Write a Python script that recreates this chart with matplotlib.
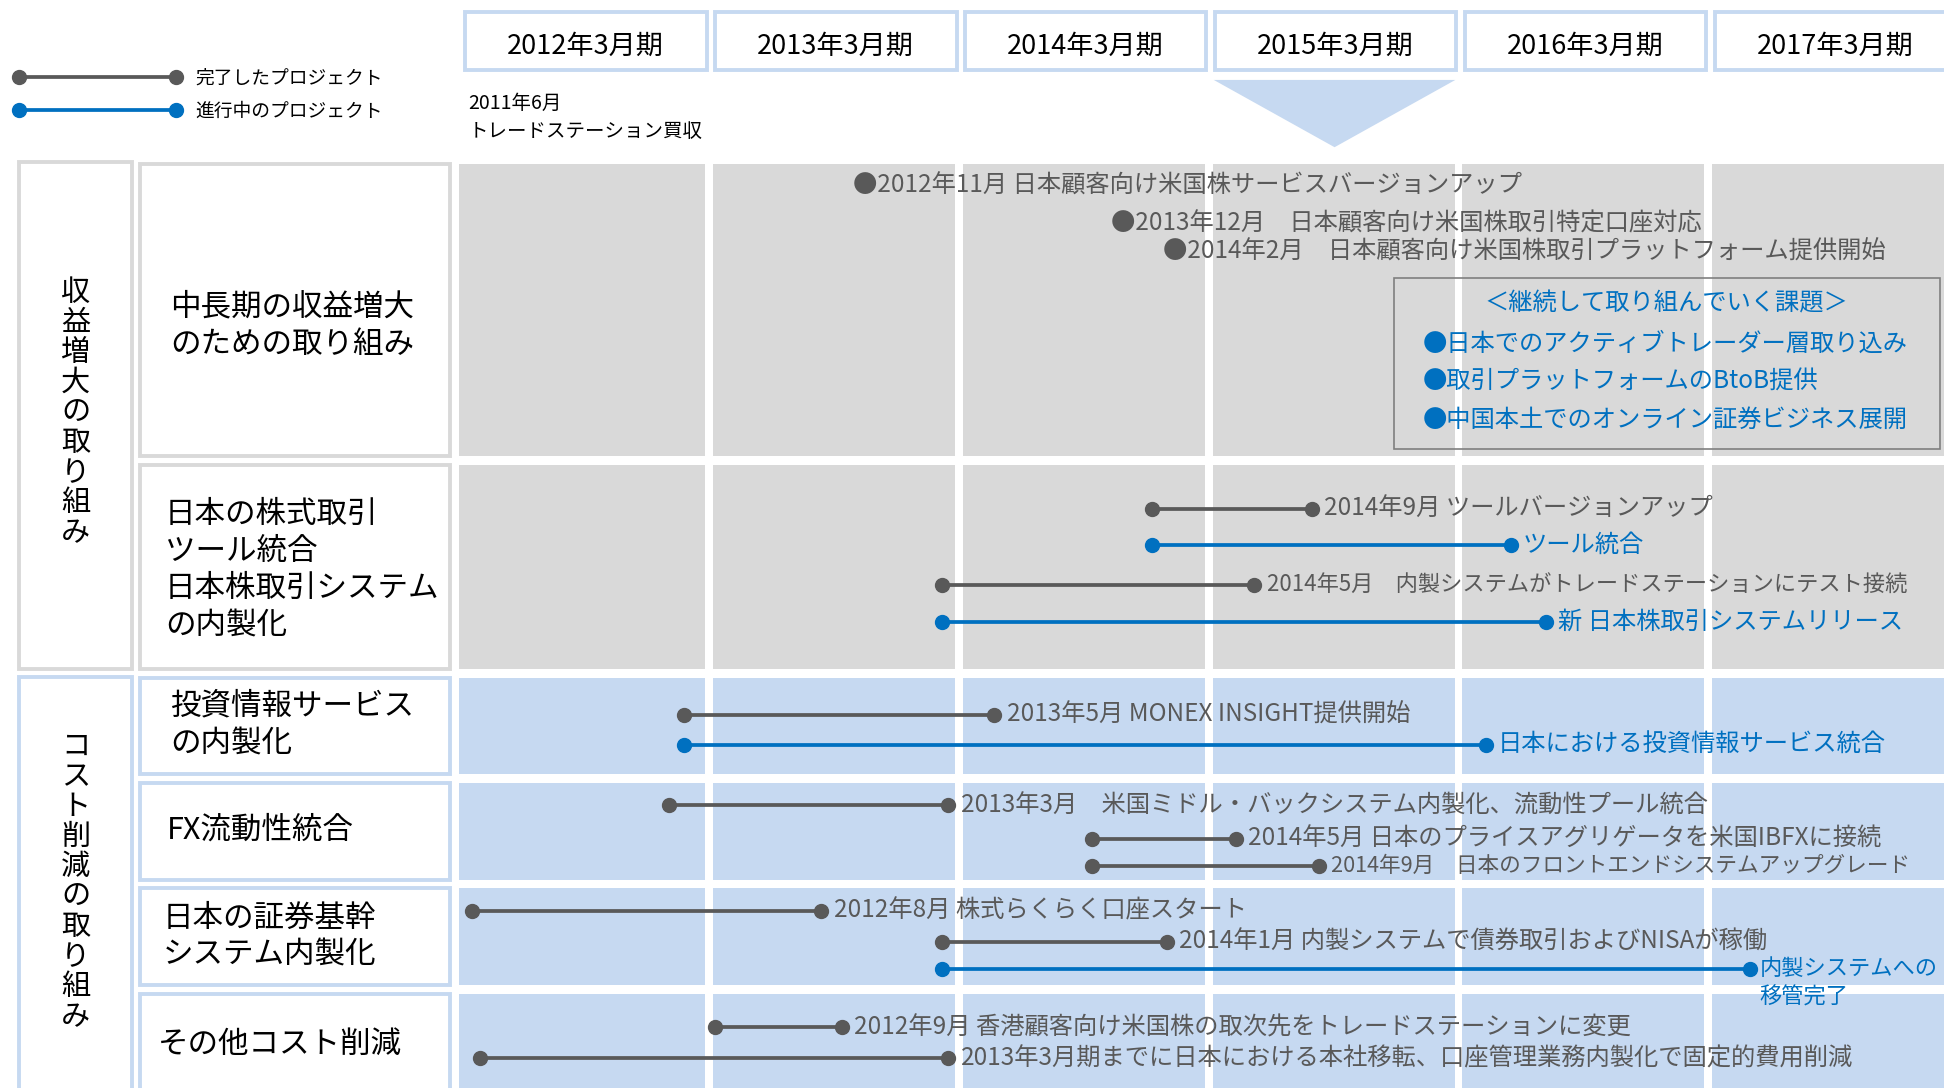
import matplotlib
matplotlib.use('Agg')
import matplotlib.pyplot as plt
from matplotlib.patches import Rectangle, Polygon
from matplotlib.lines import Line2D

plt.rcParams['font.family'] = ['Noto Sans CJK JP', 'DejaVu Sans']

# ---------------- data ----------------
fiscal_years = ["2012年3月期", "2013年3月期", "2014年3月期",
                "2015年3月期", "2016年3月期", "2017年3月期"]
fy_start_months = [0, 12, 24, 36, 48, 60]   # months since April 2011

category_names = ["収益増大の取り組み", "コスト削減の取り組み"]
row_names = ["中長期の収益増大\nのための取り組み",
             "日本の株式取引\nツール統合\n日本株取引システム\nの内製化",
             "投資情報サービス\nの内製化",
             "FX流動性統合",
             "日本の証券基幹\nシステム内製化",
             "その他コスト削減"]
row_category = [0, 0, 1, 1, 1, 1]

# single-point milestones (row 0)
milestone_months = [19.5, 31.9, 34.4]
milestone_labels = ["●2012年11月 日本顧客向け米国株サービスバージョンアップ",
                    "●2013年12月　日本顧客向け米国株取引特定口座対応",
                    "●2014年2月　日本顧客向け米国株取引プラットフォーム提供開始"]

# projects (start / end in months since April 2011)
proj_row = [1, 1, 1, 1, 2, 2, 3, 3, 3, 4, 4, 4, 5, 5]
proj_start = [33.3, 33.3, 23.2, 23.2, 10.8, 10.8, 10.1, 30.4, 30.4, 0.65, 23.2, 23.2, 12.3, 1.0]
proj_end = [40.95, 50.5, 38.2, 52.2, 25.7, 49.3, 23.5, 37.3, 41.3, 17.4, 34.0, 62.0, 18.4, 23.5]
proj_status = ["done", "active", "done", "active", "done", "active", "done", "done", "done",
               "done", "done", "active", "done", "done"]
proj_labels = ["2014年9月 ツールバージョンアップ",
               "ツール統合",
               "2014年5月　内製システムがトレードステーションにテスト接続",
               "新 日本株取引システムリリース",
               "2013年5月 MONEX INSIGHT提供開始",
               "日本における投資情報サービス統合",
               "2013年3月　米国ミドル・バックシステム内製化、流動性プール統合",
               "2014年5月 日本のプライスアグリゲータを米国IBFXに接続",
               "2014年9月　日本のフロントエンドシステムアップグレード",
               "2012年8月 株式らくらく口座スタート",
               "2014年1月 内製システムで債券取引およびNISAが稼働",
               "内製システムへの\n移管完了",
               "2012年9月 香港顧客向け米国株の取次先をトレードステーションに変更",
               "2013年3月期までに日本における本社移転、口座管理業務内製化で固定的費用削減"]

issues_title = "＜継続して取り組んでいく課題＞"
issues = ["●日本でのアクティブトレーダー層取り込み",
          "●取引プラットフォームのBtoB提供",
          "●中国本土でのオンライン証券ビジネス展開"]

acquisition_note = "2011年6月\nトレードステーション買収"
legend_labels = ["完了したプロジェクト", "進行中のプロジェクト"]

# ---------------- styles / layout ----------------
GRAY = '#595959'
BLUE = '#0070c0'
CELL_GRAY = '#d9d9d9'
CELL_BLUE = '#c6d9f1'
status_color = {"done": GRAY, "active": BLUE}
EVENT_FS = 17.5
proj_fs = [EVENT_FS, EVENT_FS, 16, EVENT_FS, EVENT_FS, EVENT_FS, EVENT_FS,
           EVENT_FS, 15.6, EVENT_FS, EVENT_FS, 16, EVENT_FS, EVENT_FS]

W, H = 1568, 878          # layout units
X0, PPM = 370, 16.8       # timeline origin and px per month

row_top = [132, 375, 547, 632, 717, 802]
row_bot = [368, 540, 625, 710, 795, 900]
cat_top = [131, 546]
cat_bot = [540, 900]
cat_center = [333, 712]
row_label_x = [137, 133, 137, 135, 131, 127]
row_label_y = [263, 460, 585, 670, 756, 843]
milestone_y = [150, 180, 203]
proj_y = [411, 440, 472, 502, 577, 601, 650, 677, 699, 735, 760, 782, 829, 854]

fig = plt.figure(figsize=(19.44, 10.88), dpi=100)
ax0 = fig.add_axes([0, 0, 1, 1])
ax0.set_xlim(0, W)
ax0.set_ylim(H, 0)
ax0.axis('off')

axT = fig.add_axes([X0 / W, 0, (W - X0) / W, 1])
axT.set_xlim(0, (W - X0) / PPM)
axT.set_ylim(H, 0)
axT.axis('off')

# ---------------- left label boxes ----------------
for i, name in enumerate(category_names):
    ec = CELL_GRAY if i == 0 else CELL_BLUE
    ax0.add_patch(Rectangle((15.6, cat_top[i]), 90.8, cat_bot[i] - cat_top[i],
                            fc='white', ec=ec, lw=2.8))
    ax0.text(61, cat_center[i], "\n".join(name), ha='center', va='center',
             multialignment='center', fontsize=21, linespacing=1.0, color='black')

for r, name in enumerate(row_names):
    ec = CELL_GRAY if row_category[r] == 0 else CELL_BLUE
    ax0.add_patch(Rectangle((113.2, row_top[r]), 249.7, row_bot[r] - row_top[r],
                            fc='white', ec=ec, lw=2.8))
    ax0.text(row_label_x[r], row_label_y[r], name, ha='left', va='center',
             fontsize=22, linespacing=1.26, color='black')

# ---------------- timeline cells ----------------
for r in range(len(row_names)):
    fc = CELL_GRAY if row_category[r] == 0 else CELL_BLUE
    for k, m in enumerate(fy_start_months):
        x0 = m + (0 if k == 0 else 0.19)
        x1 = m + 12 - 0.19
        axT.add_patch(Rectangle((x0, row_top[r]), x1 - x0, row_bot[r] - row_top[r],
                                fc=fc, ec='none', zorder=1))

# header boxes
for k, (m, lab) in enumerate(zip(fy_start_months, fiscal_years)):
    axT.add_patch(Rectangle((m + 0.3, 9.6), 11.6, 46.6, fc='white', ec=CELL_BLUE,
                            lw=2.8, zorder=2))
    axT.text(m + 6.1, 37, lab, ha='center', va='center', fontsize=19.5,
             color='black', zorder=3)

# triangle under current fiscal year
s = fy_start_months[3]
axT.add_patch(Polygon([(s + 0.25, 64.5), (s + 11.85, 64.5), (s + 6.05, 118.8)],
                      closed=True, fc=CELL_BLUE, ec='none'))

ax0.text(377.6, 94.5, acquisition_note, ha='left', va='center', fontsize=14,
         linespacing=1.45, color='black')

# ---------------- milestones ----------------
for m, y, lab in zip(milestone_months, milestone_y, milestone_labels):
    axT.annotate(lab, (m, y), xytext=(-8.5, 0), textcoords='offset points',
                 ha='left', va='center', fontsize=EVENT_FS, color=GRAY,
                 annotation_clip=False, zorder=4)

# ---------------- projects ----------------
for s0, e0, st, lab, y, fs in zip(proj_start, proj_end, proj_status, proj_labels,
                                  proj_y, proj_fs):
    c = status_color[st]
    axT.plot([s0, e0], [y, y], color=c, lw=2.7, marker='o', ms=10,
             solid_capstyle='butt', zorder=4, clip_on=False)
    if "\n" in lab:
        axT.annotate(lab, (e0, y), xytext=(7, 9), textcoords='offset points',
                     ha='left', va='top', fontsize=fs, color=c, linespacing=1.35,
                     annotation_clip=False, zorder=4)
    else:
        axT.annotate(lab, (e0, y), xytext=(9, 0), textcoords='offset points',
                     ha='left', va='center', fontsize=fs, color=c,
                     annotation_clip=False, zorder=4)

# ---------------- issues box ----------------
bx0, bx1, by0, by1 = 44.9, 71.1, 224, 362
axT.add_patch(Rectangle((bx0, by0), bx1 - bx0, by1 - by0, fill=False,
                        ec='#7f7f7f', lw=1.2, zorder=5))
axT.text((bx0 + bx1) / 2, 245, issues_title, ha='center', va='center',
         fontsize=17.5, color=BLUE, zorder=5)
for i, t in enumerate(issues):
    axT.text(bx0 + 1.4, 277 + 31 * i, t, ha='left', va='center', fontsize=17.5,
             color=BLUE, zorder=5)

# ---------------- legend ----------------
handles = [Line2D([], [], color=GRAY, lw=2.7, marker='o', ms=10),
           Line2D([], [], color=BLUE, lw=2.7, marker='o', ms=10)]
fig.legend(handles, legend_labels, numpoints=2, handlelength=9.0,
           handletextpad=0.7, labelspacing=0.65, frameon=False, fontsize=13.5,
           loc='center left', bbox_to_anchor=(10.6 / W, 1 - 76.5 / H),
           borderpad=0, borderaxespad=0)

fig.savefig('out.png', dpi=100)
